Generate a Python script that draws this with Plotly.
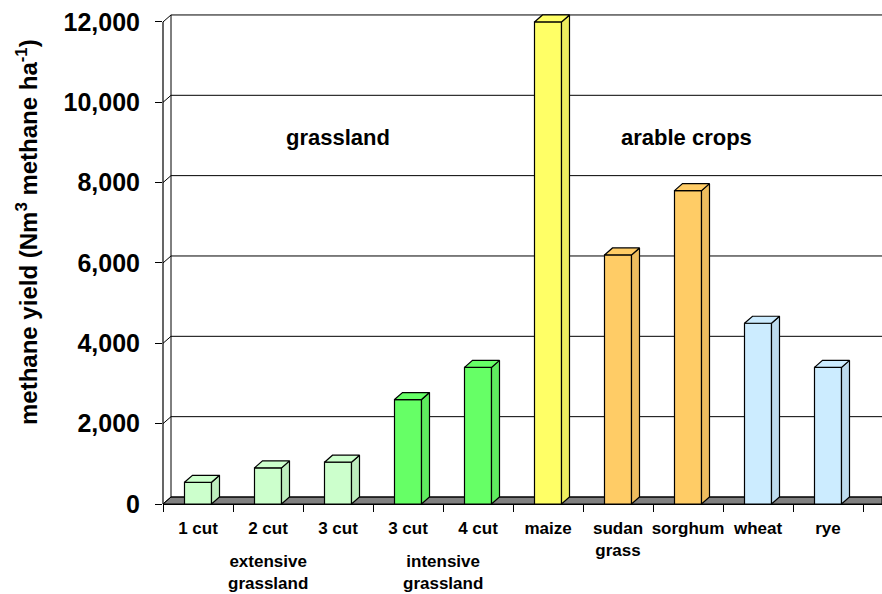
import plotly.graph_objects as go

# data
categories = ["1 cut", "2 cut", "3 cut", "3 cut", "4 cut", "maize",
              "sudan<br>grass", "sorghum", "wheat", "rye"]
methane_yield = [540, 900, 1040, 2600, 3400, 12000, 6200, 7800, 4500, 3400]
y_ticks = [0, 2000, 4000, 6000, 8000, 10000, 12000]
y_title = "methane yield (Nm<sup>3</sup> methane ha<sup>-1</sup>)"
section_labels = ["grassland", "arable crops"]
group_labels = ["extensive<br>grassland", "intensive<br>grassland"]

# colours per bar
face_colors = ["#CCFFCC"] * 3 + ["#66FF66"] * 2 + ["#FFFF66"] + ["#FFCC66"] * 2 + ["#CCECFF"] * 2
side_colors = ["#BDEDBD"] * 3 + ["#5EEB5E"] * 2 + ["#EDED5E"] + ["#EDBD5E"] * 2 + ["#BDDBED"] * 2

FONT = "Liberation Sans, Arial, sans-serif"
W, H = 882, 594
L, R, T, B = 163, 0, 13, 90
slot = 70.0            # px per category
ppu_y = 40.17 / 1000   # px per unit on the y axis
x0 = -0.5
x_max = x0 + (W - L - R) / slot
y_max = (H - T - B) / ppu_y
bw = 27 / slot         # width of the front face
dx = 8 / slot          # depth offset, x
dy = 7 / ppu_y         # depth offset, y


def px_x(px):
    return (px - L) / (W - L - R)


def px_y(py):
    return (H - B - py) / (H - T - B)


n = len(categories)
xs = list(range(n))

fig = go.Figure()

fig.add_trace(go.Bar(
    x=xs, y=methane_yield, width=bw,
    marker=dict(color=face_colors, line=dict(color="black", width=1.2)),
    hoverinfo="skip", showlegend=False,
))

# side and top faces of each column
for i, v in enumerate(methane_yield):
    xl, xr = i - bw / 2, i + bw / 2
    side_x = [xr, xr + dx, xr + dx, xr, xr]
    side_y = [0, dy, v + dy, v, 0]
    top_x = [xl, xl + dx, xr + dx, xr, xl]
    top_y = [v, v + dy, v + dy, v, v]
    fig.add_trace(go.Scatter(
        x=side_x, y=side_y, mode="lines", fill="toself",
        fillcolor=side_colors[i], line=dict(color="black", width=1.2),
        hoverinfo="skip", showlegend=False,
    ))
    fig.add_trace(go.Scatter(
        x=top_x, y=top_y, mode="lines", fill="toself",
        fillcolor=face_colors[i], line=dict(color="black", width=1.2),
        hoverinfo="skip", showlegend=False,
    ))

shapes = []
# floor
shapes.append(dict(
    type="path", xref="x", yref="y", layer="below",
    path=f"M {x0},0 L {x0 + dx},{dy} L {x_max},{dy} L {x_max},0 Z",
    fillcolor="#808080", line=dict(color="black", width=1),
))
# back wall gridlines and the slanted links to the front axis
for v in y_ticks:
    shapes.append(dict(type="line", xref="x", yref="y", layer="below",
                       x0=x0 + dx, x1=x_max, y0=v + dy, y1=v + dy,
                       line=dict(color="black", width=1)))
    shapes.append(dict(type="line", xref="x", yref="y", layer="below",
                       x0=x0, x1=x0 + dx, y0=v, y1=v + dy,
                       line=dict(color="black", width=1)))
# back wall left edge
shapes.append(dict(type="line", xref="x", yref="y", layer="below",
                   x0=x0 + dx, x1=x0 + dx, y0=dy, y1=y_ticks[-1] + dy,
                   line=dict(color="black", width=1)))
# front value axis
shapes.append(dict(type="line", xref="paper", yref="y", layer="above",
                   x0=0, x1=0, y0=0, y1=y_ticks[-1],
                   line=dict(color="black", width=1.2)))

bold = lambda size: dict(family=FONT, size=size, color="black", weight="bold")
annotations = [
    dict(text=y_title, xref="paper", yref="paper", x=px_x(27), y=px_y(232),
         textangle=-90, showarrow=False, xanchor="center", yanchor="middle",
         font=bold(24)),
    dict(text=section_labels[0], xref="paper", yref="paper",
         x=px_x(338), y=px_y(137), showarrow=False,
         xanchor="center", yanchor="middle", font=bold(22)),
    dict(text=section_labels[1], xref="paper", yref="paper",
         x=px_x(686), y=px_y(137), showarrow=False,
         xanchor="center", yanchor="middle", font=bold(22)),
    dict(text=group_labels[0], xref="x", yref="paper",
         x=1, y=px_y(572), showarrow=False,
         xanchor="center", yanchor="middle", font=bold(17)),
    dict(text=group_labels[1], xref="x", yref="paper",
         x=3.5, y=px_y(572), showarrow=False,
         xanchor="center", yanchor="middle", font=bold(17)),
]

fig.update_layout(
    width=W, height=H,
    margin=dict(l=L, r=R, t=T, b=B, pad=0, autoexpand=False),
    paper_bgcolor="white", plot_bgcolor="white",
    font=dict(family=FONT, color="black"),
    shapes=shapes, annotations=annotations,
    xaxis=dict(
        range=[x0, x_max], tickmode="array", tickvals=xs, ticktext=categories,
        ticks="", showgrid=False, zeroline=False, showline=True, automargin=False,
        linecolor="black", linewidth=1.2, ticklabelstandoff=8,
        tickfont=bold(17),
        minor=dict(tickmode="linear", tick0=-0.5, dtick=1, ticks="outside",
                   ticklen=7, tickcolor="black", tickwidth=1.2, showgrid=False),
    ),
    yaxis=dict(
        range=[0, y_max], tickmode="array", tickvals=y_ticks, tickformat=",d",
        ticks="outside", ticklen=7, tickcolor="black", tickwidth=1.2, automargin=False,
        showgrid=False, zeroline=False, showline=False, ticklabelstandoff=10,
        tickfont=bold(25),
    ),
)

fig.write_html("out.html", config=dict(displayModeBar=False),
               post_script="document.body.style.margin='0px';")
